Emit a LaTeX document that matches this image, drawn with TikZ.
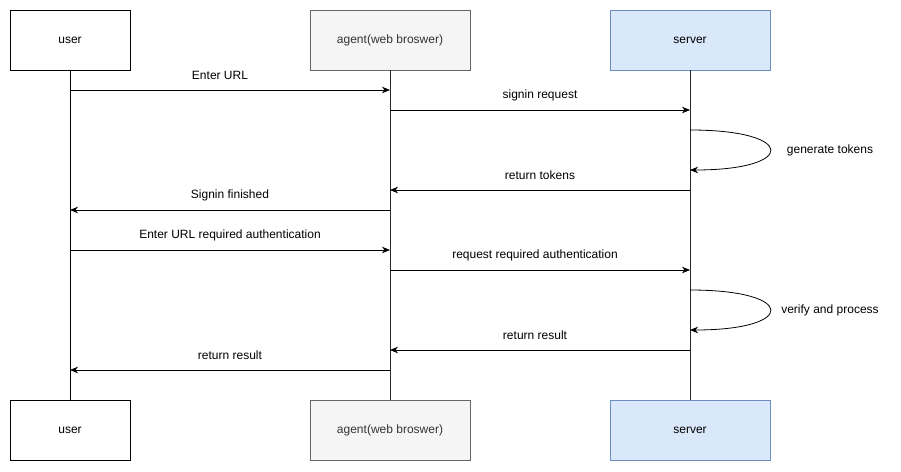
\documentclass[tikz,border=0pt]{standalone}
\usepackage{fontspec}
\setmainfont{Liberation Sans}
\usetikzlibrary{arrows.meta}
\definecolor{agentfill}{HTML}{F5F5F5}
\definecolor{agentline}{HTML}{666666}
\definecolor{serverfill}{HTML}{DAE8FC}
\definecolor{serverline}{HTML}{6C8EBF}
\begin{document}
\begin{tikzpicture}[x=1pt,y=-1pt,
  every node/.style={font=\fontsize{12}{14}\selectfont},
  actor/.style={draw=black,fill=white,minimum height=60pt,inner sep=0pt,line width=0.8pt},
  userbox/.style={actor,minimum width=120pt},
  agentbox/.style={actor,minimum width=160pt,fill=agentfill,draw=agentline,text=black!80},
  serverbox/.style={actor,minimum width=160pt,fill=serverfill,draw=serverline},
  msg/.style={-{Stealth[length=8pt,width=6.5pt,inset=2.5pt]},line width=0.8pt},
  lifeline/.style={line width=0.8pt},
  lbl/.style={inner sep=0pt,fill=none}]
\useasboundingbox (0,0) rectangle (901,471);
\fill[white] (0,0) rectangle (901,471);
% top and bottom actors
\node[userbox] (u1) at (70,40) {user};
\node[agentbox] (a1) at (390,40) {agent(web broswer)};
\node[serverbox] (s1) at (690,40) {server};
\node[userbox] (u2) at (70,430) {user};
\node[agentbox] (a2) at (390,430) {agent(web broswer)};
\node[serverbox] (s2) at (690,430) {server};
% lifelines
\draw[lifeline] (u1.south) -- (u2.north);
\draw[lifeline,draw=black!85] (a1.south) -- (a2.north);
\draw[lifeline,draw=black!85] (s1.south) -- (s2.north);
% coordinates on lifelines
\coordinate (u90) at (70,90);   \coordinate (a90) at (390,90);
\coordinate (a110) at (390,110); \coordinate (s110) at (690,110);
\coordinate (s130) at (690,130); \coordinate (s170) at (690,170);
\coordinate (s190) at (690,190); \coordinate (a190) at (390,190);
\coordinate (a210) at (390,210); \coordinate (u210) at (70,210);
\coordinate (u250) at (70,250); \coordinate (a250) at (390,250);
\coordinate (a270) at (390,270); \coordinate (s270) at (690,270);
\coordinate (s290) at (690,290); \coordinate (s330) at (690,330);
\coordinate (s350) at (690,350); \coordinate (a350) at (390,350);
\coordinate (a370) at (390,370); \coordinate (u370) at (70,370);
% messages
\draw[msg] (u90) -- (a90);
\node[lbl] (l1) at (220,75) {Enter URL};
\draw[msg] (a110) -- (s110);
\node[lbl] (l2) at (540,95) {signin request};
\draw[msg] (s130) .. controls (797,130) and (797,170) .. (s170);
\node[lbl] (l3) at (830,150) {generate tokens};
\draw[msg] (s190) -- (a190);
\node[lbl] (l4) at (540,175) {return tokens};
\draw[msg] (a210) -- (u210);
\node[lbl] (l5) at (230,195) {Signin finished};
\draw[msg] (u250) -- (a250);
\node[lbl] (l6) at (230,235) {Enter URL required authentication};
\draw[msg] (a270) -- (s270);
\node[lbl] (l7) at (535,255) {request required authentication};
\draw[msg] (s290) .. controls (797,290) and (797,330) .. (s330);
\node[lbl] (l8) at (830,310) {verify and process};
\draw[msg] (s350) -- (a350);
\node[lbl] (l9) at (535,335) {return result};
\draw[msg] (a370) -- (u370);
\node[lbl] (l10) at (230,355) {return result};
\end{tikzpicture}
\end{document}
